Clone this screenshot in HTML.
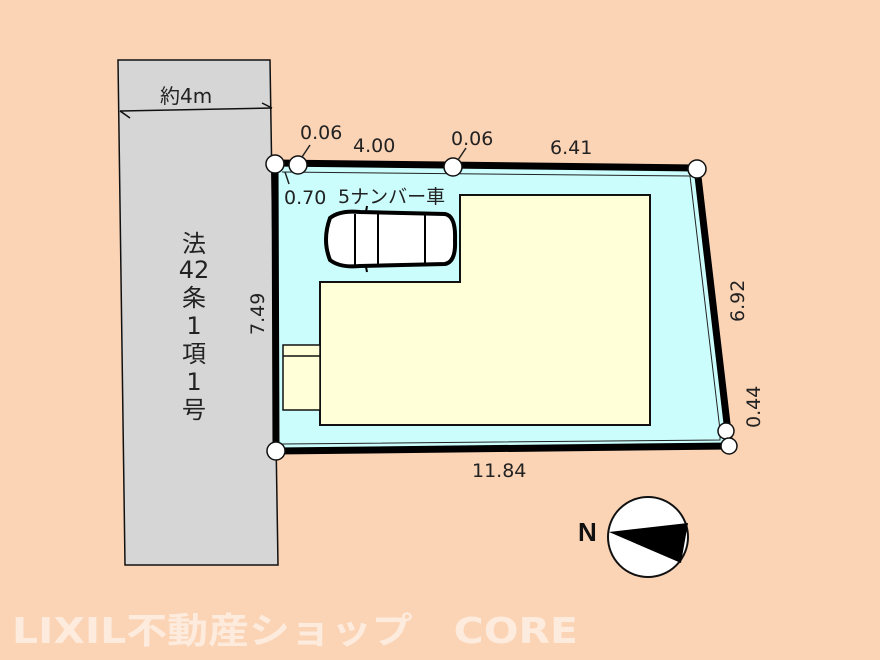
<!DOCTYPE html>
<html><head><meta charset="utf-8"><style>
html,body{margin:0;padding:0;background:#fbd3b5;}
svg{display:block}
text{font-family:"DejaVu Sans","Noto Sans CJK JP",sans-serif;fill:#222}
</style></head><body>
<svg width="880" height="660" viewBox="0 0 880 660" xmlns="http://www.w3.org/2000/svg">
<rect width="880" height="660" fill="#fbd3b5"/>
<polygon points="118,60 270,60 278,565 125,565" fill="#d6d6d6" stroke="#111" stroke-width="1.5"/>
<line x1="120" y1="111" x2="272" y2="108" stroke="#111" stroke-width="1.5"/>
<line x1="120" y1="111" x2="130" y2="118" stroke="#111" stroke-width="1.5"/>
<line x1="272" y1="108" x2="262" y2="103" stroke="#111" stroke-width="1.5"/>
<text x="160" y="103" font-size="20">約4m</text>
<g font-size="24" text-anchor="middle">
<text x="194" y="252">法</text><text x="194" y="278">42</text><text x="194" y="306">条</text>
<text x="194" y="334">1</text><text x="194" y="362">項</text><text x="194" y="390">1</text><text x="194" y="418">号</text>
</g>
<polygon points="275,163 697,168 728,432 730,446 276,451" fill="#ccfdfd"/>
<polyline points="282,172 690,176 720,430 720,440 282,444" fill="none" stroke="#222" stroke-width="1"/>
<polygon points="275,163 697,168 728,432 730,446 276,451" fill="none" stroke="#000" stroke-width="7" stroke-linejoin="round"/>
<polygon points="460,195 650,195 650,425 320,425 320,282 460,282" fill="#ffffd8" stroke="#111" stroke-width="2"/>
<rect x="283" y="345" width="37" height="65" fill="#ffffd8" stroke="#111" stroke-width="1.5"/>
<line x1="283" y1="356" x2="320" y2="356" stroke="#111" stroke-width="1.5"/>
<g stroke="#000" stroke-width="4" fill="#fff">
<path d="M330,218 Q340,210 360,212 L445,214 Q456,216 455,240 Q456,262 445,264 L360,266 Q340,268 330,260 Q322,240 330,218 Z"/>
</g>
<g stroke="#000" stroke-width="2" fill="none">
<line x1="355" y1="214" x2="355" y2="265"/><line x1="378" y1="213" x2="378" y2="266"/><line x1="425" y1="214" x2="425" y2="264"/>
<line x1="366" y1="212" x2="367" y2="206"/><line x1="366" y1="267" x2="367" y2="272"/>
</g>
<g fill="#fff" stroke="#111" stroke-width="1.5">
<circle cx="275" cy="164" r="9"/><circle cx="298" cy="165" r="9"/><circle cx="453" cy="167" r="9"/>
<circle cx="697" cy="169" r="9"/><circle cx="726" cy="431" r="8"/><circle cx="729" cy="446" r="8"/><circle cx="276" cy="451" r="9"/>
</g>
<g stroke="#222" stroke-width="1.5">
<line x1="302" y1="157" x2="310" y2="145"/><line x1="458" y1="160" x2="466" y2="148"/><line x1="285" y1="172" x2="289" y2="184"/>
</g>
<g font-size="19">
<text x="300" y="139">0.06</text><text x="353" y="152">4.00</text><text x="451" y="145">0.06</text>
<text x="550" y="154">6.41</text><text x="284" y="204">0.70</text><text x="338" y="203">5ナンバー車</text>
<text x="472" y="477">11.84</text>
<text transform="translate(264,335) rotate(-90)">7.49</text>
<text transform="translate(744,322) rotate(-90)">6.92</text>
<text transform="translate(760,428) rotate(-90)">0.44</text>
</g>
<circle cx="648" cy="537" r="40" fill="#fff" stroke="#111" stroke-width="2"/>
<polygon points="609,532 688,523 681,563" fill="#000"/>
<text x="578" y="541" font-size="26" font-weight="bold" style="fill:#111;font-family:'Liberation Sans',sans-serif">N</text>
<text x="12" y="643" font-size="36" font-weight="bold" textLength="566" lengthAdjust="spacingAndGlyphs" style="fill:#fff;opacity:0.55">LIXIL不動産ショップ　CORE</text>
</svg>
</body></html>
